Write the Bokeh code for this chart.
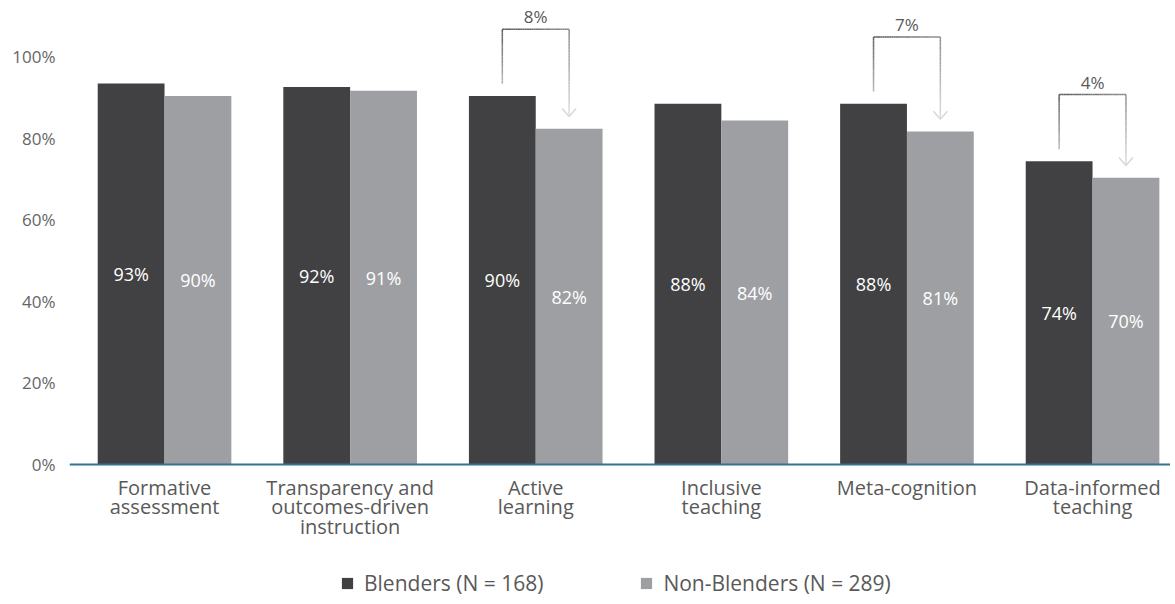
from bokeh.plotting import figure
from bokeh.models import (ColumnDataSource, Range1d, FixedTicker, PrintfTickFormatter,
                          Legend, LegendItem, Span)
from bokeh.core.properties import value
from bokeh.embed import file_html
from bokeh.resources import INLINE

# ---------------- data ----------------
categories = ["Formative\nassessment",
              "Transparency and\noutcomes-driven\ninstruction",
              "Active\nlearning",
              "Inclusive\nteaching",
              "Meta-cognition",
              "Data-informed\nteaching"]
blenders = [93.4, 92.5, 90.3, 88.4, 88.4, 74.3]
non_blenders = [90.3, 91.6, 82.3, 84.3, 81.6, 70.3]
blender_labels = ["93%", "92%", "90%", "88%", "88%", "74%"]
non_blender_labels = ["90%", "91%", "82%", "84%", "81%", "70%"]
gap_index = [2, 4, 5]
gap_labels = ["8%", "7%", "4%"]
y_ticks = [0, 20, 40, 60, 80, 100]
series_names = ["Blenders (N = 168)", "Non-Blenders (N = 289)"]

# ---------------- style ----------------
FONT = "Open Sans"
DARK = "#414143"
LIGHT = "#9e9fa3"
TEXT = "#595959"
AXIS_BLUE = "#32718f"
OFF = 0.18
BW = 0.36
PX_PER_UNIT_Y = 4.08      # pixels per percentage point
PX_PER_UNIT_X = 185.6     # pixels per category

xs = list(range(len(categories)))

p = figure(width=1170, height=600, output_backend="svg", toolbar_location=None,
           x_range=Range1d(-0.512, 5.42), y_range=Range1d(-33.33, 113.73),
           min_border_left=69, min_border_right=0, min_border_top=0,
           min_border_bottom=0)
p.outline_line_color = None
p.xaxis.visible = False
p.xgrid.visible = False
p.ygrid.visible = False
p.background_fill_color = "white"

src_b = ColumnDataSource(dict(x=[x - OFF for x in xs], top=blenders,
                              mid=[v / 2 for v in blenders], lab=blender_labels))
src_n = ColumnDataSource(dict(x=[x + OFF for x in xs], top=non_blenders,
                              mid=[v / 2 for v in non_blenders], lab=non_blender_labels))

r_b = p.vbar(x="x", top="top", width=BW, source=src_b, fill_color=DARK, line_color=None)
r_n = p.vbar(x="x", top="top", width=BW, source=src_n, fill_color=LIGHT, line_color=None)

for src in (src_b, src_n):
    p.text(x="x", y="mid", text="lab", source=src, text_color="white",
           text_font=value(FONT), text_font_size="18px",
           text_align="center", text_baseline="middle")

# baseline (x axis line)
p.add_layout(Span(location=0, dimension="width", line_color=AXIS_BLUE, line_width=2))

# category labels under the baseline
p.text(x=xs, y=[-9.0 / PX_PER_UNIT_Y] * len(xs), text=categories, text_color=TEXT,
       text_font=value(FONT), text_font_size="20px", text_align="center",
       text_baseline="top", text_line_height=0.74)

# ---------------- difference brackets ----------------
def hex2rgb(h):
    h = h.lstrip("#")
    return tuple(int(h[i:i + 2], 16) for i in (0, 2, 4))

def lerp(c0, c1, t):
    a, b = hex2rgb(c0), hex2rgb(c1)
    return "#%02x%02x%02x" % tuple(int(round(a[k] + (b[k] - a[k]) * t)) for k in range(3))

seg = dict(x0=[], y0=[], x1=[], y1=[], c=[])

def grad_line(xa, ya, xb, yb, ca, cb, n=30):
    for k in range(n):
        t0, t1 = k / n, (k + 1) / n
        seg["x0"].append(xa + (xb - xa) * t0)
        seg["y0"].append(ya + (yb - ya) * t0)
        seg["x1"].append(xa + (xb - xa) * t1)
        seg["y1"].append(ya + (yb - ya) * t1)
        seg["c"].append(lerp(ca, cb, (t0 + t1) / 2))

lab_x, lab_y = [], []
arrow_dx = 7.0 / PX_PER_UNIT_X
arrow_dy = 8.0 / PX_PER_UNIT_Y
for i in gap_index:
    xl, xr = i - OFF, i + OFF
    top = blenders[i] + 16.4
    lb = blenders[i] + 3.0
    tip = non_blenders[i] + 3.0
    grad_line(xl, lb, xl, top, "#b5b5b5", "#595959")
    grad_line(xl, top, xr, top, "#595959", "#8c8c8c")
    grad_line(xr, top, xr, tip, "#8c8c8c", "#dedede")
    grad_line(xr - arrow_dx, tip + arrow_dy, xr, tip, "#d8d8d8", "#d8d8d8", n=1)
    grad_line(xr + arrow_dx, tip + arrow_dy, xr, tip, "#d8d8d8", "#d8d8d8", n=1)
    lab_x.append(i)
    lab_y.append(top + 3.0)

p.segment(x0="x0", y0="y0", x1="x1", y1="y1", line_color="c", line_width=1.5,
          source=ColumnDataSource(seg))
p.text(x=lab_x, y=lab_y, text=gap_labels, text_color=TEXT, text_font=value(FONT),
       text_font_size="17px", text_align="center", text_baseline="middle")

# ---------------- y axis ----------------
ya = p.yaxis[0]
ya.ticker = FixedTicker(ticks=y_ticks)
ya.formatter = PrintfTickFormatter(format="%d%%")
ya.axis_line_color = None
ya.major_tick_line_color = None
ya.minor_tick_line_color = None
ya.major_tick_out = 0
ya.major_label_standoff = 14
ya.major_label_text_font = FONT
ya.major_label_text_font_size = "17px"
ya.major_label_text_color = "#666666"

# ---------------- legend ----------------
legend = Legend(items=[LegendItem(label=series_names[0], renderers=[r_b]),
                       LegendItem(label=series_names[1], renderers=[r_n])],
                orientation="horizontal", location=(271, 3),
                glyph_width=14, glyph_height=14, label_standoff=10, spacing=96,
                label_text_font=FONT, label_text_font_size="21px",
                label_text_color=TEXT, border_line_color=None,
                background_fill_alpha=0, margin=0, padding=0)
p.add_layout(legend)

open("out.html", "w").write(file_html(p, INLINE))
